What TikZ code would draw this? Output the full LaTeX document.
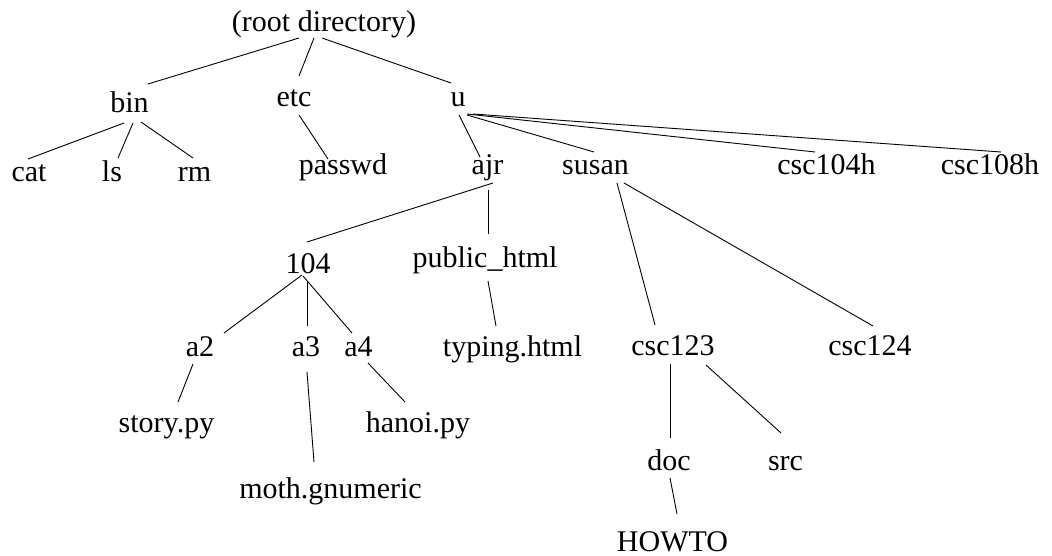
\documentclass[tikz,border=0pt]{standalone}
\usepackage{fontspec}
\setmainfont{Liberation Serif}
\usetikzlibrary{calc}
\begin{document}
\begin{tikzpicture}[x=1pt,y=-1pt,
  lbl/.style={anchor=base,inner sep=0pt,font=\fontsize{30}{36}\selectfont},
  edge/.style={line width=0.9pt}]
\useasboundingbox (0,0) rectangle (1052,556);
\node[lbl] (root) at (324,32) {(root directory)};
\node[lbl] (bin) at (129.5,113) {bin};
\node[lbl] (etc) at (294,107) {etc};
\node[lbl] (u) at (458,107) {u};
\node[lbl] (cat) at (29,182) {cat};
\node[lbl] (ls) at (112,182) {ls};
\node[lbl] (rm) at (194.5,182) {rm};
\node[lbl] (passwd) at (343,175) {passwd};
\node[lbl] (ajr) at (487.5,175) {ajr};
\node[lbl] (susan) at (595.5,175) {susan};
\node[lbl] (c104h) at (826.5,175) {csc104h};
\node[lbl] (c108h) at (990,175) {csc108h};
\node[lbl] (n104) at (308,273) {104};
\node[lbl] (pub) at (485,267) {public\_html};
\node[lbl] (a2) at (200,356) {a2};
\node[lbl] (a3) at (306,356) {a3};
\node[lbl] (a4) at (358.5,356) {a4};
\node[lbl] (typing) at (512.5,356) {typing.html};
\node[lbl] (c123) at (673,355) {csc123};
\node[lbl] (c124) at (870,355) {csc124};
\node[lbl] (story) at (166.5,432) {story.py};
\node[lbl] (hanoi) at (418,432) {hanoi.py};
\node[lbl] (moth) at (330.5,498) {moth.gnumeric};
\node[lbl] (doc) at (669,470) {doc};
\node[lbl] (src) at (785.5,470) {src};
\node[lbl] (howto) at (672.5,551) {HOWTO};
\begin{scope}[edge]
\draw ($(root.base)+(-25,6)$) -- ($(bin.base)+(18.5,-29)$);
\draw ($(root.base)+(-10,6)$) -- ($(etc.base)+(5,-31)$);
\draw ($(root.base)+(-2,6)$) -- ($(u.base)+(-7,-24)$);
\draw ($(bin.base)+(-5.5,10)$) -- ($(cat.base)+(-1,-23)$);
\draw ($(bin.base)+(3.5,10)$) -- ($(ls.base)+(6,-24)$);
\draw ($(bin.base)+(11.5,9)$) -- ($(rm.base)+(-1.5,-24)$);
\draw ($(etc.base)+(5,8)$) -- ($(passwd.base)+(-15,-16)$);
\draw ($(u.base)+(1,8)$) -- ($(ajr.base)+(-7.5,-18)$);
\draw ($(u.base)+(9,8)$) -- ($(susan.base)+(-1.5,-23)$);
\draw ($(u.base)+(9,7)$) -- ($(c104h.base)+(-11.5,-23)$);
\draw ($(u.base)+(15,7)$) -- ($(c108h.base)+(11,-23)$);
\draw ($(ajr.base)+(5.5,8)$) -- ($(n104.base)+(-1,-31)$);
\draw ($(ajr.base)+(0.5,15)$) -- ($(pub.base)+(3,-33)$);
\draw ($(n104.base)+(-6,2)$) -- ($(a2.base)+(24,-23)$);
\draw ($(n104.base)+(-1,9)$) -- ($(a3.base)+(1,-30)$);
\draw ($(n104.base)+(-5,3)$) -- ($(a4.base)+(-6.5,-23)$);
\draw ($(pub.base)+(3,14)$) -- ($(typing.base)+(-16.5,-30)$);
\draw ($(a2.base)+(-7,8)$) -- ($(story.base)+(11.5,-30)$);
\draw ($(a3.base)+(1,16)$) -- ($(moth.base)+(-16.5,-36)$);
\draw ($(a4.base)+(9.5,7)$) -- ($(hanoi.base)+(-13,-30)$);
\draw ($(susan.base)+(21.5,8)$) -- ($(c123.base)+(-18,-30)$);
\draw ($(susan.base)+(28.5,8)$) -- ($(c124.base)+(3,-29)$);
\draw ($(c123.base)+(-3,9)$) -- ($(doc.base)+(1,-32)$);
\draw ($(c123.base)+(33,10)$) -- ($(src.base)+(-4.5,-37)$);
\draw ($(doc.base)+(1,8)$) -- ($(howto.base)+(4.5,-37)$);
\end{scope}
\end{tikzpicture}
\end{document}
